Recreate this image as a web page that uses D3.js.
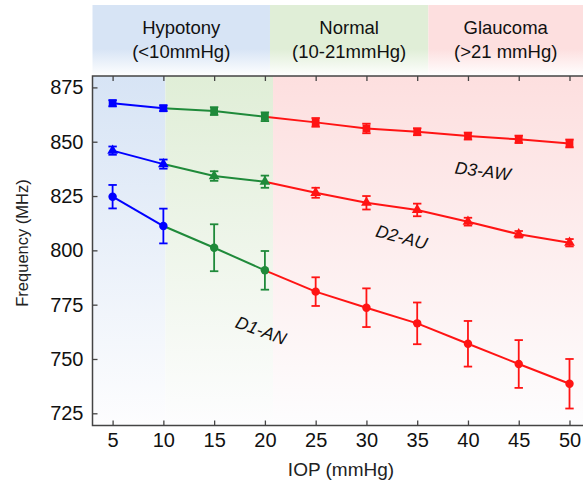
<!DOCTYPE html>
<html>
<head>
<meta charset="utf-8">
<script src="https://cdn.jsdelivr.net/npm/d3@7"></script>
<style>
  html, body { margin:0; padding:0; background:#fff; }
  svg { display:block; font-family:"Liberation Sans", Arial, sans-serif; }
</style>
</head>
<body>
<div id="chart"></div>
<script>
// ---- data ----
var iop      = [5, 10, 15, 20, 25, 30, 35, 40, 45, 50];
var d1AN     = [824.7, 811.2, 801.2, 790.8, 781.0, 773.6, 766.4, 757.0, 747.7, 738.6];
var d1ANErr  = [5.4, 8.0, 10.8, 8.9, 6.6, 8.9, 9.6, 10.5, 11.0, 11.4];
var d2AU     = [845.9, 839.7, 834.2, 831.6, 826.5, 821.9, 818.6, 813.2, 807.4, 803.5];
var d2AUErr  = [1.9, 2.1, 2.2, 2.8, 2.3, 3.1, 2.9, 1.8, 1.5, 1.7];
var d3AW     = [867.7, 865.4, 864.1, 861.5, 858.9, 856.1, 854.6, 852.6, 851.1, 849.2];
var d3AWErr  = [1.4, 1.3, 1.8, 2.0, 2.0, 2.2, 1.6, 1.6, 1.7, 1.8];
var xTicks   = [5, 10, 15, 20, 25, 30, 35, 40, 45, 50];
var yTicks   = [725, 750, 775, 800, 825, 850, 875];
// zones: [from, to] in mmHg
var zoneNames  = ["Hypotony", "Normal", "Glaucoma"];
var zoneRanges = ["(<10mmHg)", "(10-21mmHg)", "(>21 mmHg)"];
var plotZones  = [[3, 10.2], [10.2, 20.8], [20.8, 52]];
var headZones  = [[3, 20.5], [20.5, 36.1], [36.1, 52]];

var W = 583, H = 485;
var box = {"x1":92.5, "y1":76, "x2":583, "y2":425.5};
var zoneColors = ["#d7e4f5", "#e0eed7", "#fddfdf"];
var lineColors = ["#0000ff", "#1f8a3a", "#ff1414"];

var x = d3.scaleLinear().domain([5, 50]).range([112.6, 569.5]);
var y = d3.scaleLinear().domain([725, 875]).range([413.3, 87.4]);

var svg = d3.select("#chart").append("svg")
            .attr("width", W).attr("height", H)
            .attr("viewBox", "0 0 "+W+" "+H);
var defs = svg.append("defs");

// gradients: plot background fades to white at bottom, header fades near bottom
zoneColors.forEach(function(c, i){
  var g = defs.append("linearGradient").attr("id", "pg"+i)
              .attr("x1", 0).attr("y1", 0).attr("x2", 0).attr("y2", 1);
  g.append("stop").attr("offset", "0%").attr("stop-color", c);
  g.append("stop").attr("offset", "100%").attr("stop-color", "#fdfdfe");
  var h = defs.append("linearGradient").attr("id", "hg"+i)
              .attr("x1", 0).attr("y1", 0).attr("x2", 0).attr("y2", 1);
  h.append("stop").attr("offset", "0%").attr("stop-color", c);
  h.append("stop").attr("offset", "62%").attr("stop-color", c);
  h.append("stop").attr("offset", "100%").attr("stop-color", "#ffffff");
});
defs.append("clipPath").attr("id", "plotClip")
    .append("rect").attr("x", box.x1).attr("y", box.y1)
    .attr("width", box.x2-box.x1).attr("height", box.y2-box.y1);

// header bands
var header = svg.append("g");
headZones.forEach(function(z, i){
  var a = Math.max(x(z[0]), box.x1), b = Math.min(x(z[1]), W);
  header.append("rect").attr("x", a).attr("y", 5)
        .attr("width", b-a).attr("height", box.y1-5)
        .attr("fill", "url(#hg"+i+")");
  var cx = (a+b)/2;
  header.append("text").attr("x", cx).attr("y", 33.5).attr("text-anchor", "middle")
        .style("font-size", "18.5px").attr("fill", "#111").text(zoneNames[i]);
  header.append("text").attr("x", cx).attr("y", 58).attr("text-anchor", "middle")
        .style("font-size", "18.5px").attr("fill", "#111").text(zoneRanges[i]);
});

// plot bands
var bg = svg.append("g").attr("clip-path", "url(#plotClip)");
plotZones.forEach(function(z, i){
  var a = Math.max(x(z[0]), box.x1), b = Math.min(x(z[1]), W);
  bg.append("rect").attr("x", a).attr("y", box.y1)
    .attr("width", b-a).attr("height", box.y2-box.y1)
    .attr("fill", "url(#pg"+i+")");
});

// axes
var axisColor = "#444";
var xAxis = d3.axisBottom(x).tickValues(xTicks).tickSizeInner(-5).tickSizeOuter(0).tickPadding(7);
var xTop  = d3.axisTop(x).tickValues(xTicks).tickSizeInner(-5).tickSizeOuter(0).tickFormat("");
var yAxis = d3.axisLeft(y).tickValues(yTicks).tickSizeInner(-5).tickSizeOuter(0).tickPadding(9);

var gx = svg.append("g").attr("transform", "translate(0,"+box.y2+")").call(xAxis);
var gt = svg.append("g").attr("transform", "translate(0,"+box.y1+")").call(xTop);
var gy = svg.append("g").attr("transform", "translate("+box.x1+",0)").call(yAxis);
[gx, gt, gy].forEach(function(g){
  g.select(".domain").remove();
  g.selectAll(".tick line").attr("stroke", axisColor).attr("stroke-width", 1.3);
  g.selectAll(".tick text").attr("fill", "#111")
   .style("font-size", "20px").style("font-family", "'Liberation Sans', Arial, sans-serif");
});

// frame (left, top, bottom)
svg.append("path").attr("fill", "none").attr("stroke", axisColor).attr("stroke-width", 1.5)
   .attr("d", "M "+box.x2+" "+box.y1+" L "+box.x1+" "+box.y1+" L "+box.x1+" "+box.y2+" L "+box.x2+" "+box.y2);

// axis titles
svg.append("text").attr("x", 341).attr("y", 476).attr("text-anchor", "middle")
   .style("font-size", "19px").attr("fill", "#222").text("IOP (mmHg)");
svg.append("text").attr("transform", "translate(28,243) rotate(-90)").attr("text-anchor", "middle")
   .style("font-size", "16.5px").attr("fill", "#222").text("Frequency (MHz)");

// colour of each point by zone: 5,10 blue / 15,20 green / rest red
function zoneOf(v){ return v <= 10 ? 0 : (v <= 20 ? 1 : 2); }

var series = [
  {name:"D1-AN", vals:d1AN, errs:d1ANErr, sym:d3.symbolCircle,   size:56},
  {name:"D2-AU", vals:d2AU, errs:d2AUErr, sym:d3.symbolTriangle, size:50},
  {name:"D3-AW", vals:d3AW, errs:d3AWErr, sym:d3.symbolSquare,   size:60}
];

var plot = svg.append("g");
series.forEach(function(s){
  var pts = iop.map(function(v, i){ return {x:v, y:s.vals[i], e:s.errs[i], c:lineColors[zoneOf(v)]}; });
  // line segments, coloured by right end
  for (var i = 1; i < pts.length; i++){
    plot.append("line")
        .attr("x1", x(pts[i-1].x)).attr("y1", y(pts[i-1].y))
        .attr("x2", x(pts[i].x)).attr("y2", y(pts[i].y))
        .attr("stroke", pts[i].c).attr("stroke-width", 2);
  }
  pts.forEach(function(p){
    var g = plot.append("g").attr("stroke", p.c).attr("stroke-width", 1.8);
    var px = x(p.x), top = y(p.y + p.e), bot = y(p.y - p.e);
    g.append("line").attr("x1", px).attr("x2", px).attr("y1", top).attr("y2", bot);
    g.append("line").attr("x1", px-4.2).attr("x2", px+4.2).attr("y1", top).attr("y2", top);
    g.append("line").attr("x1", px-4.2).attr("x2", px+4.2).attr("y1", bot).attr("y2", bot);
    plot.append("path").attr("d", d3.symbol().type(s.sym).size(s.size))
        .attr("transform", "translate("+px+","+y(p.y)+")")
        .attr("fill", p.c);
  });
});

// series labels
var labels = [
  {t:"D1-AN", x:259, y:336, r:20},
  {t:"D2-AU", x:400, y:243, r:15},
  {t:"D3-AW", x:482, y:177, r:7}
];
labels.forEach(function(l){
  svg.append("text").attr("transform", "translate("+l.x+","+l.y+") rotate("+l.r+")")
     .attr("text-anchor", "middle").style("font-size", "17.5px").style("font-style", "italic")
     .attr("fill", "#111").text(l.t);
});
</script>
</body>
</html>
